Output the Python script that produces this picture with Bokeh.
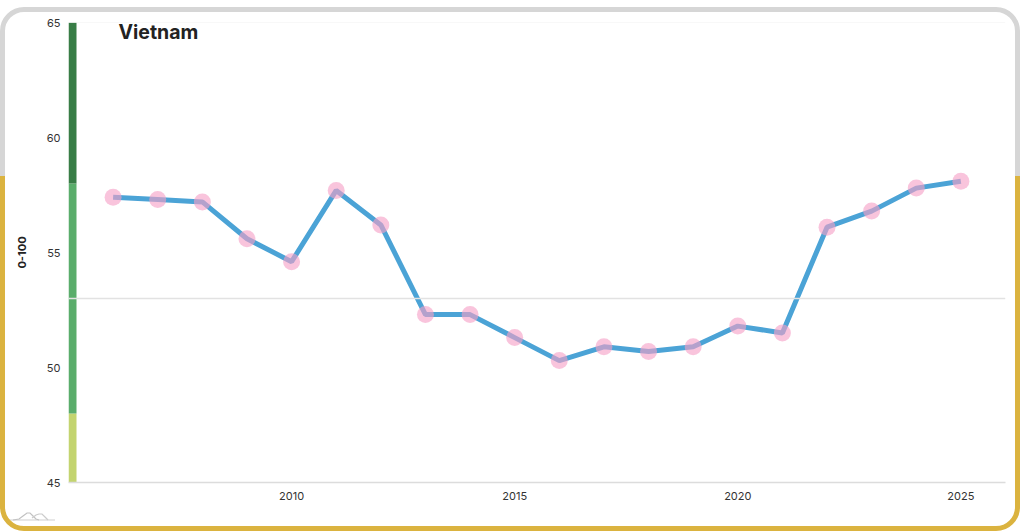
from bokeh.plotting import figure
from bokeh.models import Span, Label, FixedTicker, ColumnDataSource, Range1d
from bokeh.embed import file_html
from bokeh.resources import INLINE

years = list(range(2006, 2026))
scores = [57.4, 57.3, 57.2, 55.6, 54.6, 57.7, 56.2, 52.3, 52.3, 51.3,
          50.3, 50.9, 50.7, 50.9, 51.8, 51.5, 56.1, 56.8, 57.8, 58.1]
x_ticks = [2010, 2015, 2020, 2025]
y_ticks = [45, 50, 55, 60, 65]
band_bottoms = [45, 48, 58]
band_tops = [48, 58, 65]
band_colors = ["#c3d46f", "#5aad6b", "#387d46"]
reference_level = 53
title_text = "Vietnam"
y_label = "0-100"

W, H = 1024, 531
X0, X1 = 2005, 2026
FONT = "Inter"

# card border (gray top, gold bottom, rounded) drawn with CSS around the canvas
logo_svg = ("data:image/svg+xml,%3Csvg xmlns='http://www.w3.org/2000/svg' width='46' height='12'%3E"
            "%3Cpolyline points='0,10 45,10' fill='none' stroke='%23cfcfcf' stroke-width='1'/%3E"
            "%3Cpolyline points='3,10 9,9 13,6 17,3 20,3 23,6 26,9 29,10' fill='none' stroke='%23c2c2c2' stroke-width='1.2'/%3E"
            "%3Cpolyline points='22,8 26,5 29,4 32,4 35,7 38,10' fill='none' stroke='%23cccccc' stroke-width='1.2'/%3E"
            "%3C/svg%3E")
card_css = """
:host::before, :host::after {
  content: "";
  position: absolute;
  left: 0px; top: 7px; width: 1020px; height: 524px;
  box-sizing: border-box;
  border: 5px solid #d6d6d6;
  border-radius: 24px;
  pointer-events: none;
  z-index: 10;
}
:host::before { clip-path: inset(0px 0px 355px 0px); }
:host::after {
  border-color: #dbb33f;
  clip-path: inset(169px 0px 0px 0px);
  background-image: url("%s");
  background-repeat: no-repeat;
  background-position: 5px 498px;
}
""" % logo_svg

p = figure(width=W, height=H, output_backend="svg", toolbar_location=None,
           x_range=Range1d(X0, X1), y_range=Range1d(45, 65),
           min_border_left=68, min_border_right=19, min_border_top=22,
           min_border_bottom=49, stylesheets=[card_css])
p.background_fill_color = "white"
p.border_fill_color = "white"
p.outline_line_color = None
p.xgrid.visible = False
p.ygrid.visible = False

# axes
p.xaxis.ticker = FixedTicker(ticks=x_ticks)
p.yaxis.ticker = FixedTicker(ticks=y_ticks)
for ax in (p.xaxis[0], p.yaxis[0]):
    ax.major_tick_line_color = None
    ax.minor_tick_line_color = None
    ax.major_tick_out = 0
    ax.major_tick_in = 0
    ax.minor_tick_out = 0
    ax.major_label_text_font = FONT
    ax.major_label_text_font_size = "11px"
    ax.major_label_text_color = "#333333"
p.xaxis.axis_line_color = "#dcdcdc"
p.xaxis.axis_line_width = 1.5
p.xaxis.major_label_standoff = 9
p.yaxis.axis_line_color = None
p.yaxis.major_label_standoff = 8
p.yaxis.axis_label = y_label
p.yaxis.axis_label_text_font = FONT
p.yaxis.axis_label_text_font_style = "bold"
p.yaxis.axis_label_text_font_size = "11px"
p.yaxis.axis_label_text_color = "#222222"
p.yaxis.axis_label_standoff = 18

# reference lines
p.add_layout(Span(location=65, dimension="width", line_color="#f2f2f2", line_width=1))
p.add_layout(Span(location=reference_level, dimension="width", line_color="#e2e2e2", line_width=1.5))

# coloured score bands on the left edge
bar_w = (X1 - X0) * 8 / 937
p.quad(left=[X0] * 3, right=[X0 + bar_w] * 3, bottom=band_bottoms, top=band_tops,
       fill_color=band_colors, line_color=None)

src = ColumnDataSource(dict(x=years, y=scores))
p.line("x", "y", source=src, line_color="#4ba3d6", line_width=5)
p.scatter("x", "y", source=src, size=17, fill_color="#f59fc6", fill_alpha=0.62,
          line_color=None)

p.add_layout(Label(x=X0, y=65, x_offset=50, y_offset=3, text=title_text,
                   text_font=FONT, text_font_style="bold", text_font_size="19.5px",
                   text_color="#222222", text_baseline="top"))

open("out.html", "w").write(file_html(p, INLINE))
